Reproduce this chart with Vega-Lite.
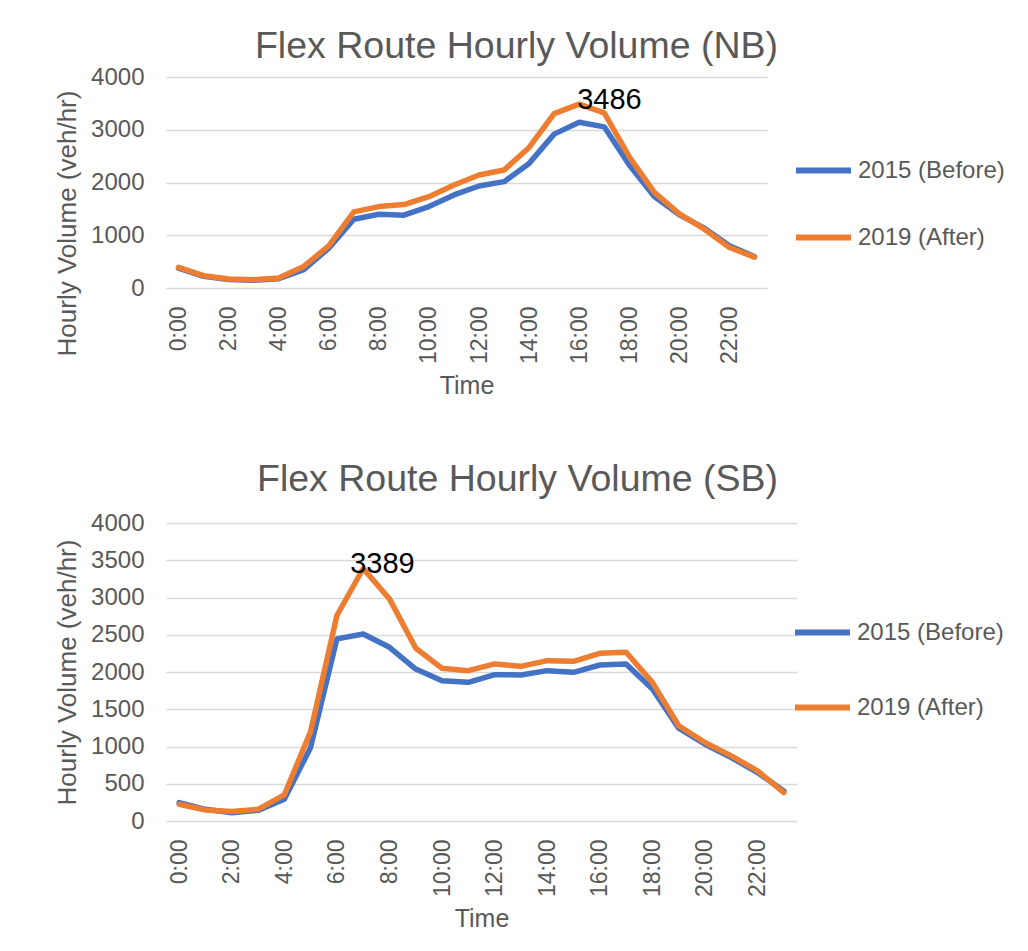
{
  "$schema": "https://vega.github.io/schema/vega-lite/v6.json",
  "background": "white",
  "padding": {"left": 54, "top": 27, "right": 10, "bottom": 10},
  "datasets": {
    "nb": [
      {"hour": 0, "series": "2015 (Before)", "v": 378}, {"hour": 1, "series": "2015 (Before)", "v": 220},
      {"hour": 2, "series": "2015 (Before)", "v": 160}, {"hour": 3, "series": "2015 (Before)", "v": 145},
      {"hour": 4, "series": "2015 (Before)", "v": 176}, {"hour": 5, "series": "2015 (Before)", "v": 346},
      {"hour": 6, "series": "2015 (Before)", "v": 756}, {"hour": 7, "series": "2015 (Before)", "v": 1304},
      {"hour": 8, "series": "2015 (Before)", "v": 1398}, {"hour": 9, "series": "2015 (Before)", "v": 1380},
      {"hour": 10, "series": "2015 (Before)", "v": 1543}, {"hour": 11, "series": "2015 (Before)", "v": 1764},
      {"hour": 12, "series": "2015 (Before)", "v": 1934}, {"hour": 13, "series": "2015 (Before)", "v": 2016},
      {"hour": 14, "series": "2015 (Before)", "v": 2362}, {"hour": 15, "series": "2015 (Before)", "v": 2917},
      {"hour": 16, "series": "2015 (Before)", "v": 3143}, {"hour": 17, "series": "2015 (Before)", "v": 3055},
      {"hour": 18, "series": "2015 (Before)", "v": 2331}, {"hour": 19, "series": "2015 (Before)", "v": 1732},
      {"hour": 20, "series": "2015 (Before)", "v": 1386}, {"hour": 21, "series": "2015 (Before)", "v": 1134},
      {"hour": 22, "series": "2015 (Before)", "v": 800}, {"hour": 23, "series": "2015 (Before)", "v": 598},
      {"hour": 0, "series": "2019 (After)", "v": 390}, {"hour": 1, "series": "2019 (After)", "v": 233},
      {"hour": 2, "series": "2019 (After)", "v": 170}, {"hour": 3, "series": "2019 (After)", "v": 157},
      {"hour": 4, "series": "2019 (After)", "v": 189}, {"hour": 5, "series": "2019 (After)", "v": 409},
      {"hour": 6, "series": "2019 (After)", "v": 800}, {"hour": 7, "series": "2019 (After)", "v": 1442},
      {"hour": 8, "series": "2019 (After)", "v": 1543}, {"hour": 9, "series": "2019 (After)", "v": 1581},
      {"hour": 10, "series": "2019 (After)", "v": 1732}, {"hour": 11, "series": "2019 (After)", "v": 1953},
      {"hour": 12, "series": "2019 (After)", "v": 2142}, {"hour": 13, "series": "2019 (After)", "v": 2236},
      {"hour": 14, "series": "2019 (After)", "v": 2665}, {"hour": 15, "series": "2019 (After)", "v": 3307},
      {"hour": 16, "series": "2019 (After)", "v": 3486}, {"hour": 17, "series": "2019 (After)", "v": 3320},
      {"hour": 18, "series": "2019 (After)", "v": 2488}, {"hour": 19, "series": "2019 (After)", "v": 1814},
      {"hour": 20, "series": "2019 (After)", "v": 1405}, {"hour": 21, "series": "2019 (After)", "v": 1115},
      {"hour": 22, "series": "2019 (After)", "v": 768}, {"hour": 23, "series": "2019 (After)", "v": 586}
    ],
    "sb": [
      {"hour": 0, "series": "2015 (Before)", "v": 247}, {"hour": 1, "series": "2015 (Before)", "v": 157},
      {"hour": 2, "series": "2015 (Before)", "v": 112}, {"hour": 3, "series": "2015 (Before)", "v": 143},
      {"hour": 4, "series": "2015 (Before)", "v": 291}, {"hour": 5, "series": "2015 (Before)", "v": 987},
      {"hour": 6, "series": "2015 (Before)", "v": 2444}, {"hour": 7, "series": "2015 (Before)", "v": 2511},
      {"hour": 8, "series": "2015 (Before)", "v": 2332}, {"hour": 9, "series": "2015 (Before)", "v": 2040},
      {"hour": 10, "series": "2015 (Before)", "v": 1883}, {"hour": 11, "series": "2015 (Before)", "v": 1861},
      {"hour": 12, "series": "2015 (Before)", "v": 1964}, {"hour": 13, "series": "2015 (Before)", "v": 1960},
      {"hour": 14, "series": "2015 (Before)", "v": 2018}, {"hour": 15, "series": "2015 (Before)", "v": 1996},
      {"hour": 16, "series": "2015 (Before)", "v": 2094}, {"hour": 17, "series": "2015 (Before)", "v": 2108},
      {"hour": 18, "series": "2015 (Before)", "v": 1771}, {"hour": 19, "series": "2015 (Before)", "v": 1247},
      {"hour": 20, "series": "2015 (Before)", "v": 1031}, {"hour": 21, "series": "2015 (Before)", "v": 852},
      {"hour": 22, "series": "2015 (Before)", "v": 650}, {"hour": 23, "series": "2015 (Before)", "v": 404},
      {"hour": 0, "series": "2019 (After)", "v": 224}, {"hour": 1, "series": "2019 (After)", "v": 148},
      {"hour": 2, "series": "2019 (After)", "v": 126}, {"hour": 3, "series": "2019 (After)", "v": 157},
      {"hour": 4, "series": "2019 (After)", "v": 350}, {"hour": 5, "series": "2019 (After)", "v": 1202},
      {"hour": 6, "series": "2019 (After)", "v": 2758}, {"hour": 7, "series": "2019 (After)", "v": 3389},
      {"hour": 8, "series": "2019 (After)", "v": 2982}, {"hour": 9, "series": "2019 (After)", "v": 2318},
      {"hour": 10, "series": "2019 (After)", "v": 2049}, {"hour": 11, "series": "2019 (After)", "v": 2018},
      {"hour": 12, "series": "2019 (After)", "v": 2108}, {"hour": 13, "series": "2019 (After)", "v": 2076},
      {"hour": 14, "series": "2019 (After)", "v": 2152}, {"hour": 15, "series": "2019 (After)", "v": 2143},
      {"hour": 16, "series": "2019 (After)", "v": 2251}, {"hour": 17, "series": "2019 (After)", "v": 2265},
      {"hour": 18, "series": "2019 (After)", "v": 1861}, {"hour": 19, "series": "2019 (After)", "v": 1278},
      {"hour": 20, "series": "2019 (After)", "v": 1054}, {"hour": 21, "series": "2019 (After)", "v": 874},
      {"hour": 22, "series": "2019 (After)", "v": 673}, {"hour": 23, "series": "2019 (After)", "v": 381}
    ]
  },
  "spacing": 61,
  "vconcat": [
    {
      "width": 601,
      "height": 211,
      "data": {"name": "nb"},
      "title": {"text": "Flex Route Hourly Volume (NB)", "dx": 50, "anchor": "middle", "frame": "group", "offset": 0},
      "encoding": {
        "x": {
          "field": "hour", "type": "ordinal", "title": "Time",
          "axis": {"values": [0, 2, 4, 6, 8, 10, 12, 14, 16, 18, 20, 22], "labelExpr": "datum.value + ':00'"}
        },
        "y": {
          "field": "v", "type": "quantitative", "title": "Hourly Volume (veh/hr)",
          "scale": {"domain": [0, 4000]},
          "axis": {"values": [0, 1000, 2000, 3000, 4000], "format": "d", "titleY": 146}
        }
      },
      "layer": [
        {
          "mark": {"type": "line", "strokeWidth": 5.5, "strokeJoin": "round", "strokeCap": "round"},
          "encoding": {
            "color": {
              "field": "series", "type": "nominal",
              "scale": {"domain": ["2015 (Before)", "2019 (After)"], "range": ["#4472C4", "#ED7D31"]},
              "legend": {"orient": "none", "legendX": 627, "legendY": 63, "rowPadding": 24, "padding": 0}
            }
          }
        },
        {
          "transform": [{"filter": "datum.series == '2019 (After)' && datum.hour == 16"}],
          "mark": {"type": "text", "align": "left", "baseline": "alphabetic", "dx": -2, "dy": 5, "fontSize": 29, "font": "Liberation Sans", "color": "#000000"},
          "encoding": {"text": {"field": "v", "type": "quantitative"}}
        }
      ]
    },
    {
      "width": 631,
      "height": 298,
      "data": {"name": "sb"},
      "title": {"text": "Flex Route Hourly Volume (SB)", "dx": 36, "anchor": "middle", "frame": "group", "offset": 13},
      "encoding": {
        "x": {
          "field": "hour", "type": "ordinal", "title": "Time",
          "axis": {"values": [0, 2, 4, 6, 8, 10, 12, 14, 16, 18, 20, 22], "labelExpr": "datum.value + ':00'"}
        },
        "y": {
          "field": "v", "type": "quantitative", "title": "Hourly Volume (veh/hr)",
          "scale": {"domain": [0, 4000]},
          "axis": {"values": [0, 500, 1000, 1500, 2000, 2500, 3000, 3500, 4000], "format": "d"}
        }
      },
      "layer": [
        {
          "mark": {"type": "line", "strokeWidth": 5.5, "strokeJoin": "round", "strokeCap": "round"},
          "encoding": {
            "color": {
              "field": "series", "type": "nominal",
              "scale": {"domain": ["2015 (Before)", "2019 (After)"], "range": ["#4472C4", "#ED7D31"]},
              "legend": {"orient": "none", "legendX": 626, "legendY": 79, "rowPadding": 32, "padding": 0}
            }
          }
        },
        {
          "transform": [{"filter": "datum.series == '2019 (After)' && datum.hour == 7"}],
          "mark": {"type": "text", "align": "left", "baseline": "alphabetic", "dx": -13, "dy": 4, "fontSize": 29, "font": "Liberation Sans", "color": "#000000"},
          "encoding": {"text": {"field": "v", "type": "quantitative"}}
        }
      ]
    }
  ],
  "resolve": {"scale": {"color": "independent"}},
  "config": {
    "view": {"stroke": null},
    "font": "Liberation Sans",
    "title": {"fontSize": 37.5, "font": "Liberation Sans", "fontWeight": "normal", "color": "#595959"},
    "axis": {
      "domain": false, "ticks": false, "tickSize": 0,
      "labelFont": "Liberation Sans", "labelFontSize": 24, "labelColor": "#595959",
      "titleFont": "Liberation Sans", "titleFontSize": 25, "titleFontWeight": "normal", "titleColor": "#595959",
      "gridColor": "#d9d9d9", "gridWidth": 1.5
    },
    "axisX": {"grid": false, "labelAngle": -90, "labelFontSize": 23, "labelPadding": 18, "titlePadding": 10, "titleFontSize": 25},
    "axisY": {"labelPadding": 22, "titlePadding": 10, "titleFontSize": 26},
    "legend": {
      "title": null, "symbolType": "stroke", "symbolSize": 3025, "symbolStrokeWidth": 6,
      "labelFont": "Liberation Sans", "labelFontSize": 24, "labelColor": "#595959", "labelOffset": 4, "labelLimit": 300
    }
  }
}
